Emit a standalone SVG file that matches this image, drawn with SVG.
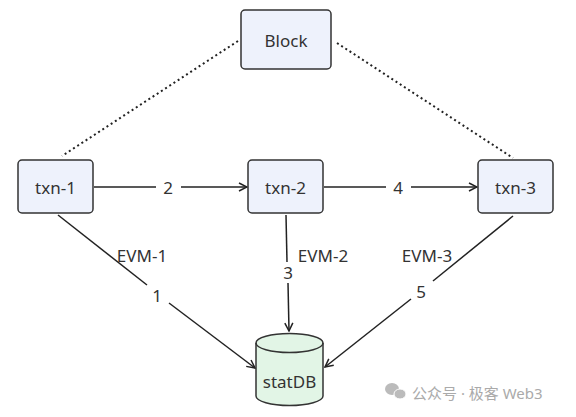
<svg xmlns="http://www.w3.org/2000/svg" width="576" height="417" viewBox="0 0 576 417">
<defs>
<style>
.node rect{fill:#eef2fc;stroke:#333;stroke-width:1.5}
.lbl{font-family:"Noto Sans","DejaVu Sans",sans-serif;font-size:17px;fill:#333;text-anchor:middle;dominant-baseline:central}
.edge{fill:none;stroke:#222;stroke-width:1.5}
.dot{fill:none;stroke:#222;stroke-width:2;stroke-dasharray:2 3}
.wm{font-family:"Noto Sans","Noto Sans CJK SC",sans-serif;font-size:15px;fill:#aaa}
</style>
<marker id="arr" viewBox="0 0 10 10" refX="9" refY="5" markerWidth="10" markerHeight="10" markerUnits="userSpaceOnUse" orient="auto">
<path d="M1,1 L9,5 L1,9" fill="none" stroke="#222" stroke-width="1.5"/>
</marker>
</defs>
<rect width="576" height="417" fill="#fff"/>
<g id="connectors">
<line class="dot" x1="238" y1="41" x2="62" y2="156"/>
<line class="dot" x1="337" y1="43" x2="513" y2="158"/>
<line class="edge" x1="94" y1="187" x2="156" y2="187"/>
<line class="edge" x1="181" y1="187" x2="247" y2="187" marker-end="url(#arr)"/>
<text class="lbl" x="168" y="187">2</text>
<line class="edge" x1="324" y1="187" x2="386" y2="187"/>
<line class="edge" x1="411" y1="187" x2="477" y2="187" marker-end="url(#arr)"/>
<text class="lbl" x="398" y="187">4</text>
<line class="edge" x1="58" y1="215" x2="147" y2="285"/>
<line class="edge" x1="169" y1="303" x2="255" y2="368" marker-end="url(#arr)"/>
<text class="lbl" x="157" y="295">1</text>
<text class="lbl" x="142" y="255">EVM-1</text>
<line class="edge" x1="286" y1="215" x2="287" y2="262"/>
<line class="edge" x1="288" y1="283" x2="289" y2="331" marker-end="url(#arr)"/>
<text class="lbl" x="288" y="272">3</text>
<text class="lbl" x="323" y="255">EVM-2</text>
<line class="edge" x1="513" y1="216" x2="433" y2="281"/>
<line class="edge" x1="411" y1="299" x2="325" y2="367" marker-end="url(#arr)"/>
<text class="lbl" x="421" y="291">5</text>
<text class="lbl" x="427" y="255">EVM-3</text>
</g>
<g id="node-block" class="node">
<rect x="241" y="10" width="90" height="59" rx="4"/>
<text class="lbl" x="286" y="40">Block</text>
</g>
<g id="node-txn1" class="node">
<rect x="18" y="160" width="75" height="53" rx="4"/>
<text class="lbl" x="55.5" y="187">txn-1</text>
</g>
<g id="node-txn2" class="node">
<rect x="248" y="160" width="75" height="53" rx="4"/>
<text class="lbl" x="285.5" y="187">txn-2</text>
</g>
<g id="node-txn3" class="node">
<rect x="478" y="160" width="75" height="53" rx="4"/>
<text class="lbl" x="515.5" y="187">txn-3</text>
</g>
<g id="node-statdb">
<path d="M256,343 L256,396 A33.5,9.5 0 0 0 323,396 L323,343 A33.5,9.5 0 0 0 256,343 Z" fill="#e2f5e6" stroke="#333" stroke-width="1.5"/>
<path d="M256,343 A33.5,9.5 0 0 0 323,343" fill="none" stroke="#333" stroke-width="1.5"/>
<text class="lbl" x="289.5" y="381">statDB</text>
</g>
<g id="watermark">
<ellipse cx="392" cy="389" rx="7" ry="6" fill="#bbb"/>
<ellipse cx="400" cy="394" rx="6" ry="5" fill="#bbb" stroke="#fff" stroke-width="1"/>
<text class="wm" x="412" y="399">公众号 · 极客 Web3</text>
</g>
</svg>
